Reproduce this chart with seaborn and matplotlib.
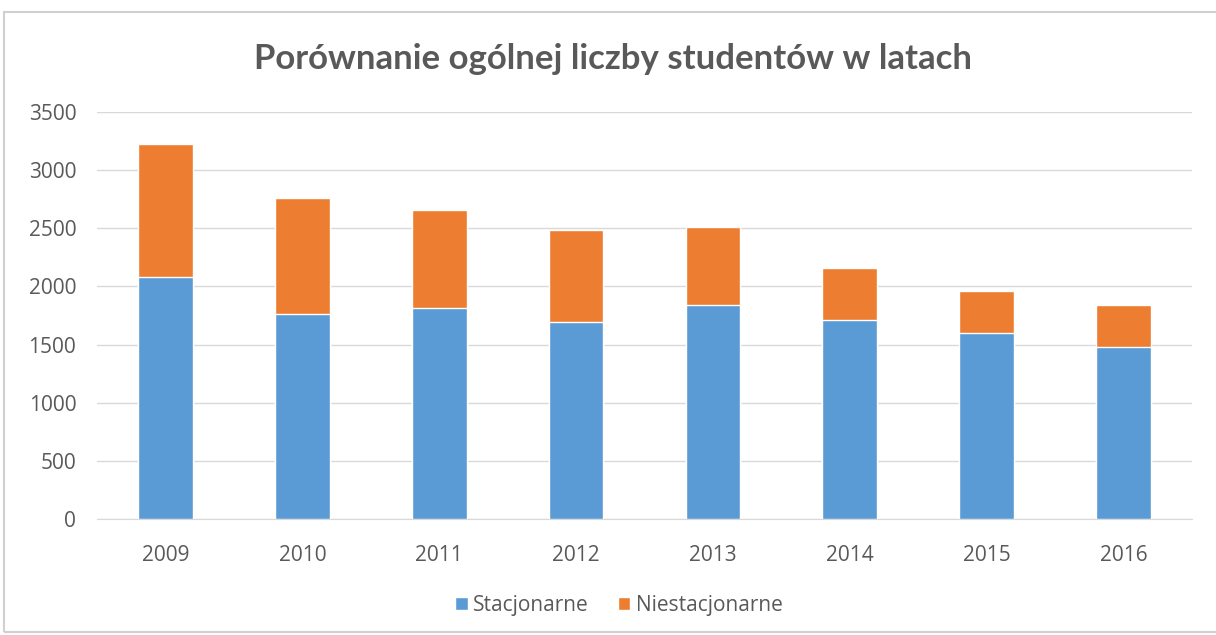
import pandas as pd
import matplotlib.pyplot as plt
import seaborn as sns
from matplotlib.patches import Patch, Rectangle

# Data
years = ['2009', '2010', '2011', '2012', '2013', '2014', '2015', '2016']
stacjonarne = [2077, 1760, 1817, 1694, 1837, 1708, 1600, 1478]
niestacjonarne = [1146, 997, 840, 789, 678, 452, 360, 362]

df = pd.DataFrame({'rok': years, 'stacjonarne': stacjonarne, 'niestacjonarne': niestacjonarne})
df['razem'] = df['stacjonarne'] + df['niestacjonarne']

blue = '#5B9BD5'
orange = '#ED7D31'
text_gray = '#595959'
grid_gray = '#D9D9D9'

sns.set_style('white')
plt.rcParams['font.family'] = ['Open Sans', 'DejaVu Sans']

fig = plt.figure(figsize=(12.16, 6.35), dpi=100)
ax = fig.add_axes([0.0798, 0.1827, 0.9005, 0.641])

# stacked bars: total (orange) first, then the stationary part (blue) on top of it
sns.barplot(x='rok', y='razem', data=df, color=orange, width=0.4, saturation=1, ax=ax, zorder=2)
sns.barplot(x='rok', y='stacjonarne', data=df, color=blue, width=0.4, saturation=1, ax=ax, zorder=3)

ax.set_ylim(0, 3500)
ax.set_yticks(range(0, 3501, 500))
ax.set_xlim(-0.5, len(years) - 0.5)
ax.yaxis.grid(True, color=grid_gray, linewidth=1)
ax.set_axisbelow(True)
for s in ['top', 'right', 'left']:
    ax.spines[s].set_visible(False)
ax.spines['bottom'].set_color(grid_gray)
ax.tick_params(axis='both', length=0, labelsize=15, colors=text_gray)
ax.tick_params(axis='x', pad=19)
ax.tick_params(axis='y', pad=15)
ax.set_xlabel('')
ax.set_ylabel('')

fig.text(0.504, 0.907, 'Porównanie ogólnej liczby studentów w latach', ha='center', va='center',
         fontsize=25, fontweight='bold', color=text_gray, family=['Lato', 'DejaVu Sans'])

handles = [Patch(facecolor=blue, label='Stacjonarne'), Patch(facecolor=orange, label='Niestacjonarne')]
fig.legend(handles=handles, loc='center', bbox_to_anchor=(0.509, 0.047), ncol=2, frameon=False,
           fontsize=15, labelcolor=text_gray, handlelength=0.6, handleheight=0.6,
           handletextpad=0.25, columnspacing=1.4)

# light frame around the chart area
fig.patches.append(Rectangle((4 / 1216, 3 / 635), 1.1, 1 - 15 / 635, transform=fig.transFigure,
                             fill=False, edgecolor='#D0D0D0', linewidth=1.5))

fig.savefig('out.png', dpi=100, facecolor='white')
